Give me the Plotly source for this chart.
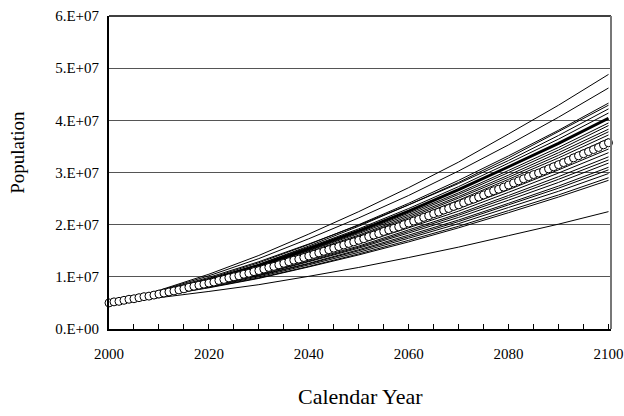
import plotly.graph_objects as go

# Mean trajectory (circles), one value per calendar year 2000-2100, in millions
years = list(range(2000, 2101))
mean_pop_millions = [
    5.0, 5.2, 5.3, 5.5, 5.7, 5.8, 6.0, 6.2, 6.3, 6.5,
    6.7, 6.9, 7.1, 7.3, 7.5, 7.7, 8.0, 8.2, 8.4, 8.6,
    8.8, 9.0, 9.3, 9.5, 9.8, 10.0, 10.2, 10.5, 10.7, 11.0,
    11.2, 11.5, 11.8, 12.0, 12.3, 12.6, 12.9, 13.2, 13.4, 13.7,
    14.0, 14.3, 14.6, 14.9, 15.2, 15.5, 15.8, 16.1, 16.4, 16.7,
    17.0, 17.3, 17.7, 18.0, 18.3, 18.7, 19.0, 19.3, 19.6, 20.0,
    20.3, 20.7, 21.0, 21.4, 21.7, 22.1, 22.4, 22.8, 23.1, 23.5,
    23.8, 24.2, 24.6, 24.9, 25.3, 25.7, 26.1, 26.5, 26.8, 27.2,
    27.6, 28.0, 28.4, 28.8, 29.2, 29.6, 29.9, 30.3, 30.7, 31.1,
    31.5, 31.9, 32.3, 32.8, 33.2, 33.6, 34.0, 34.4, 34.8, 35.3,
    35.7,
]

# Individual simulated trajectories, values every 10 years (millions)
decade_years = [2000, 2010, 2020, 2030, 2040, 2050, 2060, 2070, 2080, 2090, 2100]
sim_runs_millions = [
    [5.0, 7.4, 10.5, 14.1, 18.2, 22.5, 27.1, 32.0, 37.4, 42.9, 48.8],
    [5.0, 7.3, 10.2, 13.5, 17.3, 21.3, 25.6, 30.3, 35.3, 40.6, 46.2],
    [5.0, 7.1, 9.7, 12.7, 16.2, 20.0, 24.1, 28.5, 33.2, 38.1, 43.3],
    [5.0, 6.9, 9.4, 12.4, 15.9, 19.7, 23.8, 28.1, 32.8, 37.8, 42.9],
    [5.0, 7.2, 9.9, 12.9, 16.3, 19.9, 23.8, 27.9, 32.3, 37.1, 42.2],
    [5.0, 7.0, 9.5, 12.4, 15.7, 19.2, 23.1, 27.3, 31.8, 36.4, 41.4],
    [5.0, 6.9, 9.3, 12.0, 15.1, 18.5, 22.2, 26.1, 30.4, 34.8, 39.5],
    [5.0, 6.9, 9.2, 11.9, 15.0, 18.3, 21.9, 25.8, 30.0, 34.3, 39.0],
    [5.0, 6.8, 9.1, 11.7, 14.8, 18.0, 21.6, 25.4, 29.5, 33.8, 38.3],
    [5.0, 6.8, 9.1, 11.6, 14.6, 17.8, 21.3, 25.1, 29.1, 33.3, 37.8],
    [5.0, 6.8, 9.0, 11.5, 14.4, 17.6, 21.0, 24.7, 28.7, 32.8, 37.2],
    [5.0, 6.7, 8.9, 11.4, 14.2, 17.3, 20.7, 24.3, 28.2, 32.2, 36.5],
    [5.0, 6.6, 8.7, 11.0, 13.6, 16.5, 19.7, 23.1, 26.7, 30.5, 34.5],
    [5.0, 6.6, 8.6, 10.8, 13.4, 16.3, 19.4, 22.6, 26.2, 29.9, 33.8],
    [5.0, 6.6, 8.5, 10.7, 13.2, 15.9, 19.0, 22.1, 25.6, 29.2, 33.0],
    [5.0, 6.5, 8.4, 10.5, 13.0, 15.7, 18.7, 21.8, 25.2, 28.7, 32.4],
    [5.0, 6.5, 8.3, 10.4, 12.9, 15.5, 18.4, 21.4, 24.7, 28.1, 31.8],
    [5.0, 6.4, 8.2, 10.3, 12.6, 15.2, 18.0, 20.9, 24.1, 27.4, 31.0],
    [5.0, 6.4, 8.2, 10.2, 12.5, 15.0, 17.7, 20.6, 23.8, 27.0, 30.5],
    [5.0, 6.4, 8.1, 10.0, 12.3, 14.7, 17.4, 20.2, 23.3, 26.4, 29.8],
    [5.0, 6.3, 8.0, 9.8, 12.0, 14.4, 17.0, 19.7, 22.7, 25.7, 29.0],
    [5.0, 6.3, 7.9, 9.7, 11.9, 14.2, 16.7, 19.4, 22.3, 25.3, 28.5],
    [5.0, 6.0, 7.2, 8.5, 10.1, 11.8, 13.7, 15.7, 17.9, 20.1, 22.5],
]
# Highlighted (thick) trajectory
thick_run_millions = [5.0, 7.0, 9.4, 12.1, 15.4, 18.8, 22.6, 26.7, 31.1, 35.6, 40.4]

y_tick_values = [0, 1e7, 2e7, 3e7, 4e7, 5e7, 6e7]
y_tick_labels = ["0.E+00", "1.E+07", "2.E+07", "3.E+07", "4.E+07", "5.E+07", "6.E+07"]
x_tick_values = [2000, 2020, 2040, 2060, 2080, 2100]
x_tick_labels = ["2000", "2020", "2040", "2060", "2080", "2100"]

M = 1e6
fig = go.Figure()
for run in sim_runs_millions:
    fig.add_trace(go.Scatter(
        x=decade_years, y=[v * M for v in run], mode="lines",
        line=dict(color="black", width=1), showlegend=False, hoverinfo="skip"))
fig.add_trace(go.Scatter(
    x=decade_years, y=[v * M for v in thick_run_millions], mode="lines",
    line=dict(color="black", width=3), showlegend=False))
fig.add_trace(go.Scatter(
    x=years, y=[v * M for v in mean_pop_millions], mode="markers",
    marker=dict(symbol="circle", size=8, color="white",
                line=dict(color="black", width=1)),
    cliponaxis=False, showlegend=False))

font_family = "Liberation Serif, Times New Roman, serif"
fig.update_layout(
    width=624, height=416,
    margin=dict(l=109, r=12.5, t=16, b=87, autoexpand=False),
    paper_bgcolor="white", plot_bgcolor="white",
    font=dict(family=font_family, size=15, color="black"),
    xaxis=dict(
        range=[2000, 2100.5], tickvals=x_tick_values, ticktext=x_tick_labels,
        showgrid=False, zeroline=False, automargin=False,
        showline=True, linecolor="black", linewidth=2,
        ticks="inside", ticklen=5, tickcolor="black", tickwidth=1,
        minor=dict(dtick=5, tick0=2000, ticks="inside", ticklen=5,
                   tickcolor="black", tickwidth=1, showgrid=False),
        ticklabelstandoff=10,
    ),
    yaxis=dict(
        range=[0, 6e7], tickvals=y_tick_values, ticktext=y_tick_labels,
        showgrid=True, gridcolor="#555555", gridwidth=1, zeroline=False,
        automargin=False,
        showline=True, linecolor="black", linewidth=2,
        ticks="", ticklabelstandoff=5,
    ),
    shapes=[
        dict(type="line", xref="paper", yref="paper", x0=0, x1=1, y0=1, y1=1,
             line=dict(color="black", width=1.5)),
        dict(type="line", xref="paper", yref="paper", x0=1, x1=1, y0=0, y1=1,
             line=dict(color="#777777", width=2)),
    ],
    annotations=[
        dict(text="Population", xref="paper", yref="paper",
             x=-0.182, y=0.565, xanchor="center", yanchor="middle",
             textangle=-90, showarrow=False, font=dict(size=19)),
        dict(text="Calendar Year", xref="paper", yref="paper",
             x=0.5, y=-0.216, xanchor="center", yanchor="middle",
             showarrow=False, font=dict(size=22)),
    ],
)

fig.write_html("out.html")
